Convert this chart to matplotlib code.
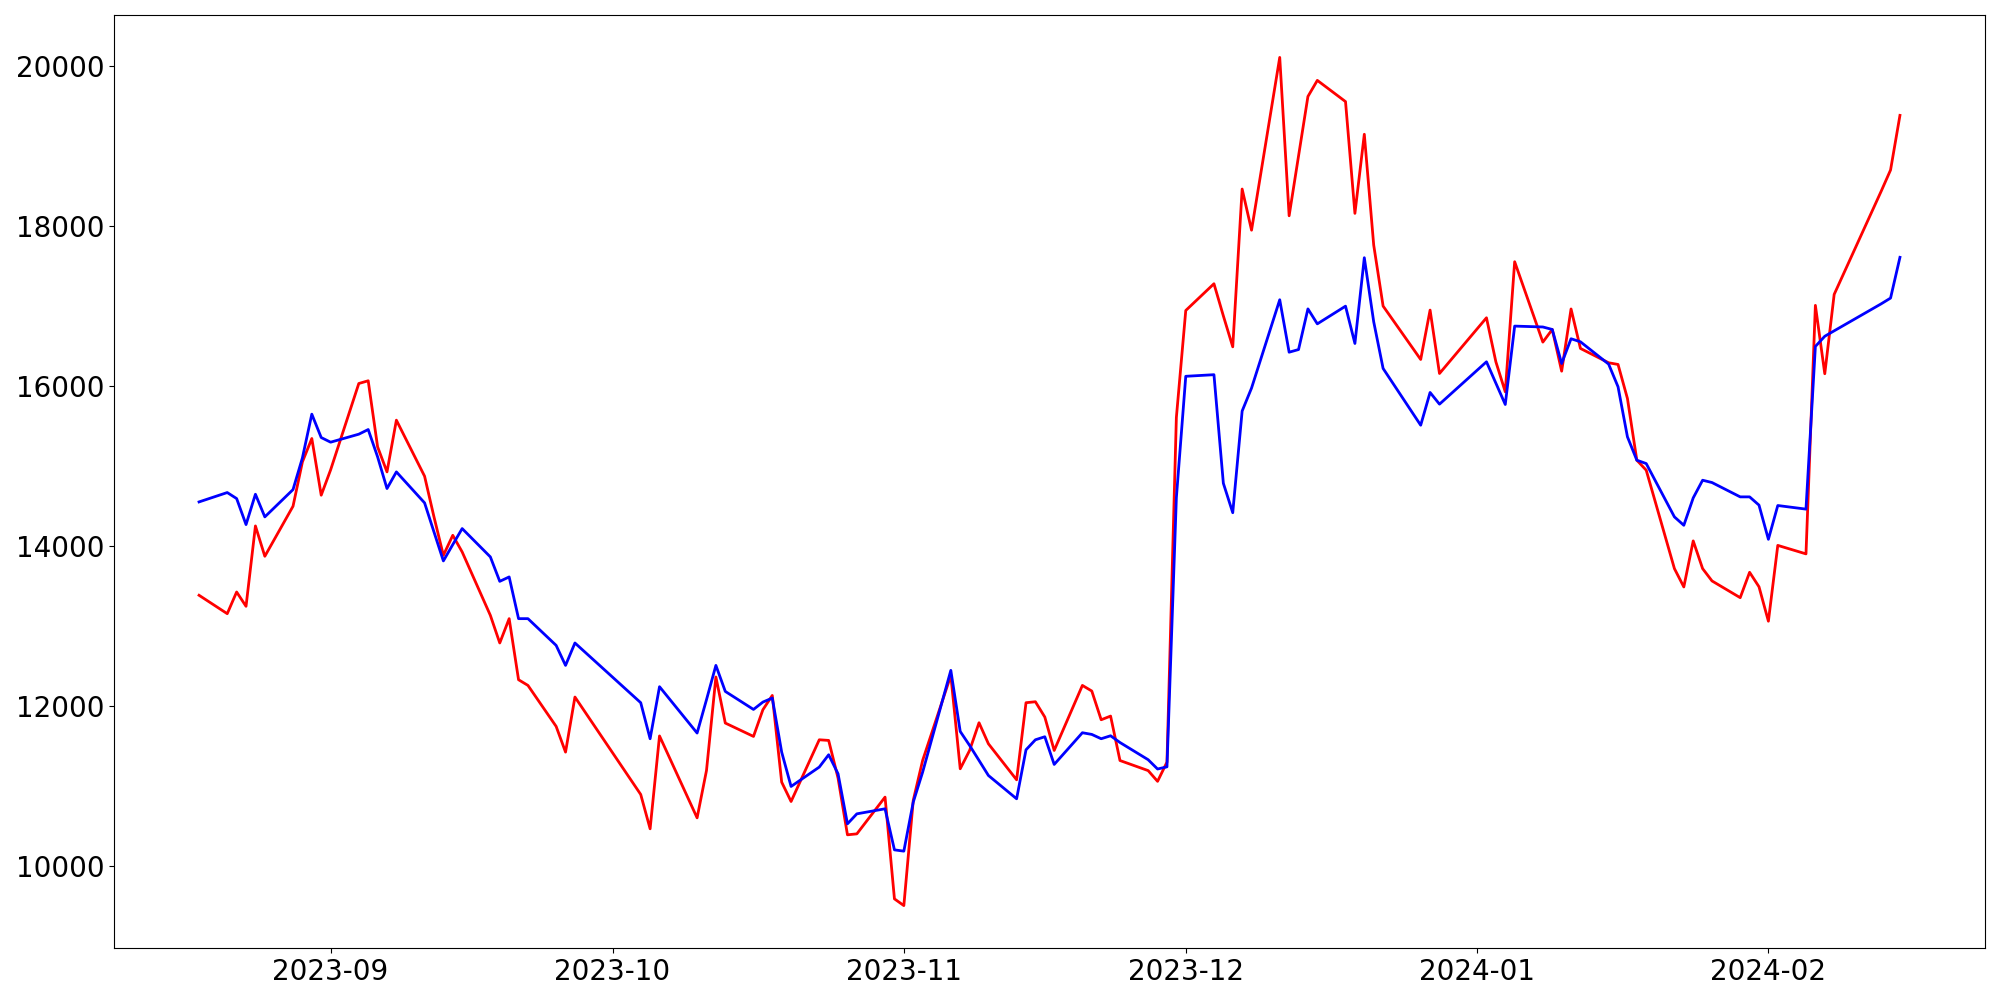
import pandas as pd
import matplotlib
matplotlib.use("Agg")
import matplotlib.pyplot as plt

# trading days (weekdays minus market holidays)
holidays = ['2023-09-28', '2023-09-29', '2023-10-02', '2023-10-03', '2023-10-09',
            '2023-12-25', '2023-12-29', '2024-01-01', '2024-02-09', '2024-02-12']
dates = pd.bdate_range('2023-08-18', '2024-02-15', freq='C', holidays=holidays)

red = [
    # Aug
    13384, 13154, 13425, 13246, 14250, 13871, 14496, 15050, 15342, 14634,
    # Sep
    14950, 16029, 16063, 15238, 14925, 15571, 14871, 14363, 13883, 14133,
    13925, 13133, 12788, 13092, 12329, 12258, 11746, 11425, 12113,
    # Oct
    10896, 10467, 11627, 10604, 11196, 12363, 11788, 11621, 11954, 12133,
    11050, 10808, 11579, 11571, 11100, 10392, 10404, 10863, 9592,
    # Nov
    9508, 10821, 11321, 12383, 11217, 11446, 11792, 11529, 11079, 12042,
    12054, 11863, 11446, 12258, 12188, 11829, 11875, 11320, 11194, 11060,
    11300, 15604,
    # Dec
    16941, 17275, 16874, 16487, 18458, 17944, 20102, 18124, 18870, 19614,
    19815, 19550, 18154, 19142, 17758, 16996, 16329, 16946, 16154,
    # Jan
    16850, 16300, 15925, 17550, 16546, 16704, 16183, 16960, 16467, 16288,
    16267, 15842, 15071, 14946, 13717, 13488, 14063, 13717, 13563, 13354,
    13671, 13490,
    # Feb
    13060, 14007, 13901, 17005, 16151, 17142, 18430, 18696, 19378,
]

blue = [
    # Aug
    14550, 14667, 14592, 14267, 14646, 14363, 14704, 15100, 15646, 15354,
    # Sep
    15296, 15396, 15454, 15113, 14717, 14925, 14538, 14175, 13813, 14017,
    14217, 13863, 13558, 13613, 13092, 13092, 12758, 12508, 12788,
    # Oct
    12042, 11592, 12242, 11663, 12080, 12508, 12183, 11958, 12050, 12100,
    11425, 10996, 11238, 11392, 11154, 10529, 10654, 10717, 10204,
    # Nov
    10188, 10800, 11175, 12446, 11683, 11508, 11321, 11133, 10842, 11454,
    11579, 11617, 11271, 11667, 11646, 11592, 11629, 11545, 11330, 11214,
    11241, 14602,
    # Dec
    16119, 16139, 14783, 14415, 15685, 15972, 17075, 16420, 16453, 16961,
    16774, 16995, 16529, 17600, 16800, 16217, 15508, 15917, 15771,
    # Jan
    16300, 16033, 15767, 16746, 16735, 16704, 16279, 16588, 16550, 16271,
    15988, 15363, 15071, 15029, 14363, 14258, 14600, 14821, 14792, 14613,
    14613, 14510,
    # Feb
    14083, 14505, 14460, 16492, 16619, 16687, 17024, 17096, 17605,
]

fig, ax = plt.subplots(figsize=(20, 10), dpi=100)
ax.plot(dates, red, color='red', linewidth=2)
ax.plot(dates, blue, color='blue', linewidth=2)
ax.tick_params(labelsize=20)
fig.subplots_adjust(left=0.057, right=0.9925, bottom=0.052, top=0.985)
fig.savefig('out.png')
